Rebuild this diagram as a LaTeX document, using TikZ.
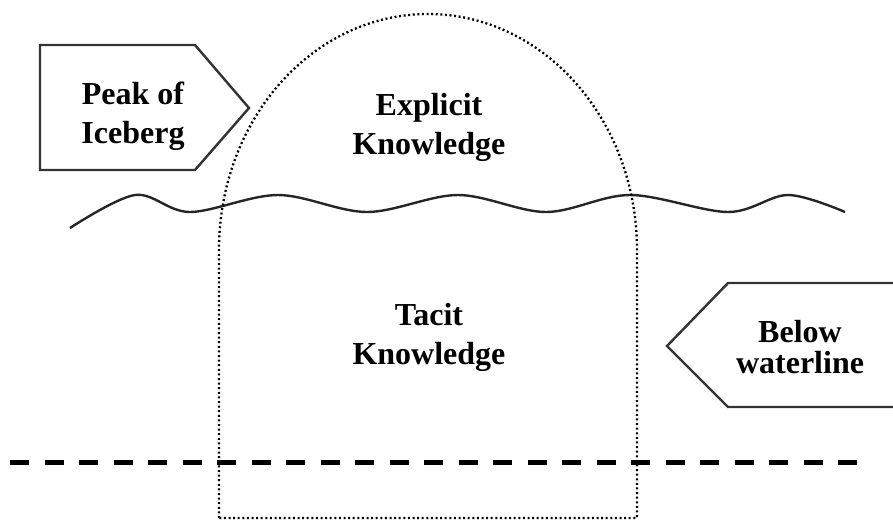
\documentclass[tikz,border=0pt]{standalone}
\usepackage{fontspec}
\setmainfont{Liberation Serif}
\begin{document}
\begin{tikzpicture}[x=1pt,y=-1pt,
  labeltext/.style={align=center,inner sep=0pt,anchor=north,font=\bfseries\fontsize{32}{39}\selectfont},
  signbox/.style={draw=black!80,line width=2.4pt,line join=miter},
  icebergline/.style={draw=black,line width=2.3pt,dash pattern=on 2pt off 2.6pt},
  wave/.style={draw=black!85,line width=2.4pt},
  seabed/.style={draw=black,line width=5pt,dash pattern=on 19pt off 15.5pt}]
\useasboundingbox (0,0) rectangle (893,520);
\clip (0,0) rectangle (893,520);
% waterline
\draw[wave] plot[smooth,tension=0.55] coordinates {(70,228) (135,195) (190,212) (278,195) (367,212) (458,195) (546,212) (630,195) (728,212) (788,195) (845,212)};
% lower boundary
\draw[seabed] (10,462) -- (870,462);
% iceberg outline
\draw[icebergline] (219,518) -- (219,250) arc[start angle=180,end angle=360,x radius=209,y radius=236] -- (637,518) -- cycle;
% signposts
\draw[signbox] (40,45) -- (195,45) -- (249,108) -- (195,170) -- (40,170) -- cycle;
\draw[signbox] (900,283) -- (728,283) -- (667,346) -- (728,407) -- (900,407);
% labels
\node[labeltext] (peak) at (133,82) {Peak of\\Iceberg};
\node[labeltext] (explicit) at (429,93) {Explicit\\Knowledge};
\node[labeltext] (tacit) at (429,303) {Tacit\\Knowledge};
\node[labeltext,font=\bfseries\fontsize{32}{31}\selectfont] (below) at (800,320) {Below\\waterline};
\end{tikzpicture}
\end{document}
